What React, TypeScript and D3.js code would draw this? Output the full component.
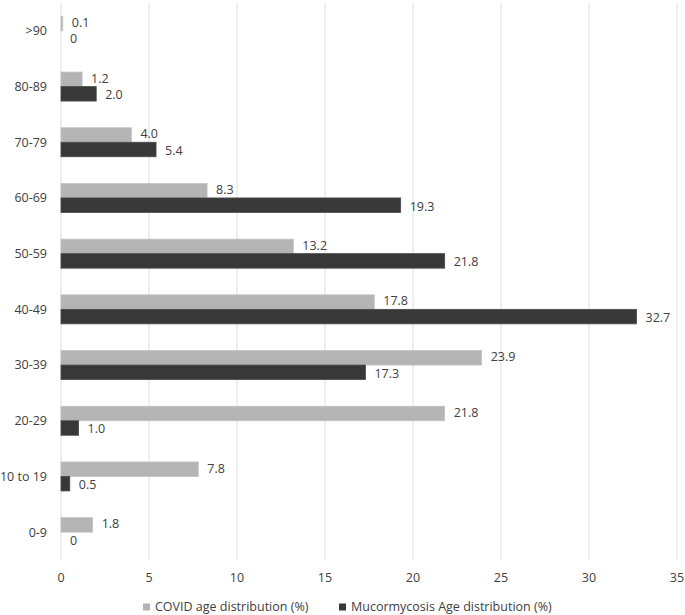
import React from "react";
import * as d3 from "d3";

const categories = [">90", "80-89", "70-79", "60-69", "50-59", "40-49", "30-39", "20-29", "10 to 19", "0-9"];
const covidValues = [0.1, 1.2, 4.0, 8.3, 13.2, 17.8, 23.9, 21.8, 7.8, 1.8];
const mucorValues = [0, 2.0, 5.4, 19.3, 21.8, 32.7, 17.3, 1.0, 0.5, 0];
const seriesNames = ["COVID age distribution (%)", "Mucormycosis Age distribution (%)"];
const xTicks = [0, 5, 10, 15, 20, 25, 30, 35];

const W = 685;
const H = 615;
const left = 61;
const right = 677;
const top = 3;
const bottom = 560;
const FONT = "'Open Sans', 'Liberation Sans', sans-serif";
const colors = ["#b4b4b4", "#383838"];

export default function App() {
  const x = d3.scaleLinear().domain([0, 35]).range([left, right]);
  const y = d3.scaleBand<string>().domain(categories).range([top, bottom]);
  const bw = y.bandwidth();
  const barH = 14.5;
  const series = [covidValues, mucorValues];
  const fmt = (v: number) => (v === 0 ? "0" : v.toFixed(1));

  return (
    <svg width={W} height={H} style={{ position: "absolute", left: 0, top: 0, background: "#fff" }} fontFamily={FONT}>
      {xTicks.map((t) => (
        <line key={t} x1={x(t)} x2={x(t)} y1={top} y2={bottom} stroke="#dedede" strokeWidth={1} />
      ))}
      {categories.map((c, i) => {
        const cy = (y(c) as number) + bw / 2;
        return (
          <g key={c}>
            <text x={47} y={cy} dy="0.35em" textAnchor="end" fontSize={12.5} fill="#404040">
              {c}
            </text>
            {series.map((vals, s) => {
              const by = cy - barH + s * barH;
              const v = vals[i];
              return (
                <g key={s}>
                  {v > 0 && (
                    <rect x={x(0)} y={by} width={x(v) - x(0)} height={barH} fill={colors[s]} stroke={s === 0 ? "#c4c4c4" : "#4a4a4a"} strokeWidth={0.8} />
                  )}
                  <text x={x(v) + 9} y={by + barH / 2 + (s === 0 ? -1 : 1)} dy="0.35em" fontSize={12.5} fill="#404040">
                    {fmt(v)}
                  </text>
                </g>
              );
            })}
          </g>
        );
      })}
      {xTicks.map((t) => (
        <text key={"t" + t} x={x(t)} y={578} dy="0.35em" textAnchor="middle" fontSize={12.5} fill="#404040">
          {t}
        </text>
      ))}
      <g>
        <rect x={143} y={603.5} width={7} height={7} fill={colors[0]} />
        <text x={155} y={607} dy="0.35em" fontSize={12.5} fill="#404040">{seriesNames[0]}</text>
        <rect x={339} y={603.5} width={7} height={7} fill={colors[1]} />
        <text x={351} y={607} dy="0.35em" fontSize={12.5} fill="#404040">{seriesNames[1]}</text>
      </g>
    </svg>
  );
}
